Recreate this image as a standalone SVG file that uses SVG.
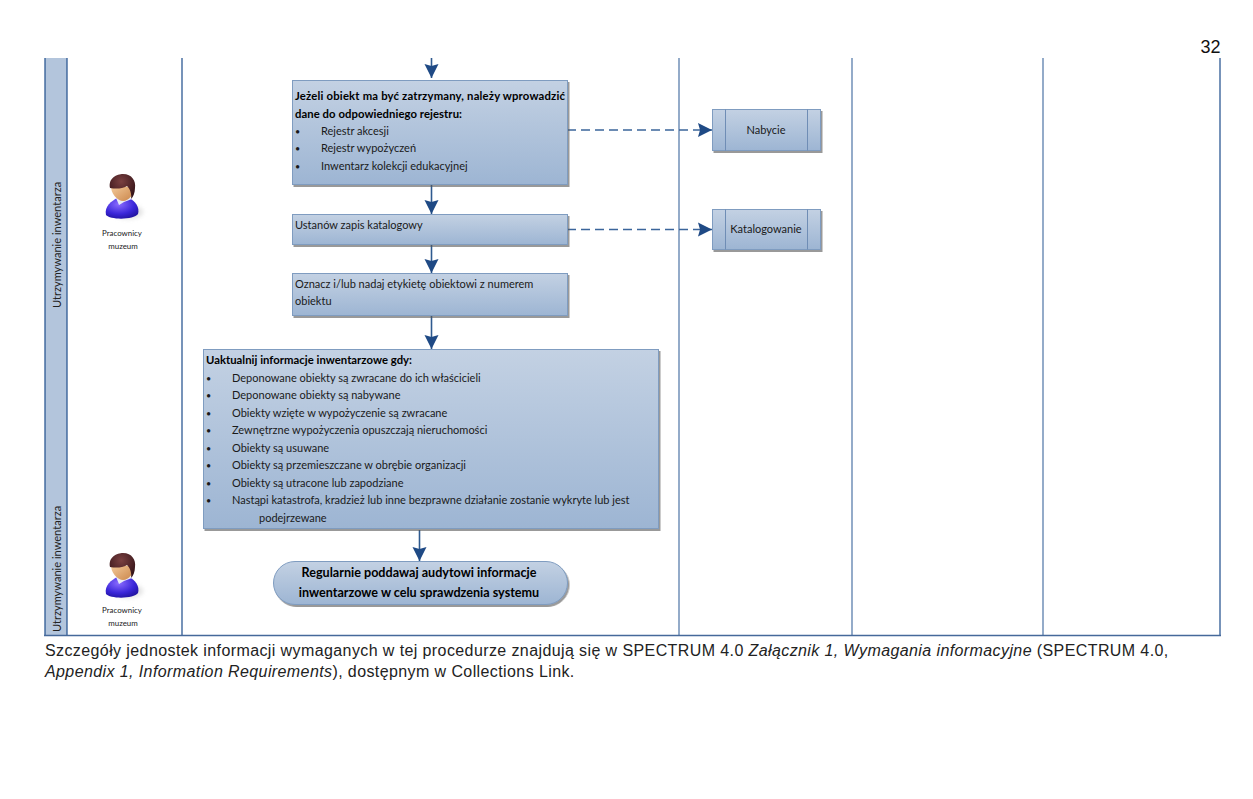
<svg xmlns="http://www.w3.org/2000/svg" xmlns:xlink="http://www.w3.org/1999/xlink" width="1253" height="799" viewBox="0 0 1253 799">
<style>
text{font-family:"Lato","Open Sans",sans-serif;font-size:11px;fill:#1a1a1a}
.b{font-weight:700;fill:#000;font-size:11.3px}
.o{font-size:12.6px}
.d{font-size:9px}
.f{font-family:"Liberation Sans",Arial,sans-serif;font-size:16px;letter-spacing:.4px;fill:#222}
.i{font-style:italic}
.box{fill:url(#g);stroke:#7f9cc0;stroke-width:1;filter:url(#s)}
.lane{stroke:#2f5a94;stroke-width:1.3;fill:none}
.flow{stroke:#2f5a8f;stroke-width:1.6;fill:none;marker-end:url(#a)}
.dash{stroke:#3b659b;stroke-width:1.3;fill:none;stroke-dasharray:9 5;marker-end:url(#a2)}
.sm{font-size:7.9px}
.rot{font-size:11.05px;fill:#222}
.bar{stroke:#6f8db5;stroke-width:1;fill:none}
</style>
<defs>
<linearGradient id="g" x1="0" y1="0" x2="0" y2="1"><stop offset="0" stop-color="#c3d1e3"/><stop offset="1" stop-color="#9db5d3"/></linearGradient>
<linearGradient id="sk" x1="0" y1="0" x2="1" y2="1"><stop offset="0" stop-color="#f7cfa0"/><stop offset="1" stop-color="#c98448"/></linearGradient>
<radialGradient id="bl" cx=".4" cy=".3" r=".8"><stop offset="0" stop-color="#8a6cff"/><stop offset=".6" stop-color="#3a26d8"/><stop offset="1" stop-color="#1d1096"/></radialGradient>
<radialGradient id="hr" cx=".45" cy=".3" r=".7"><stop offset="0" stop-color="#7a4040"/><stop offset="1" stop-color="#341318"/></radialGradient>
<filter id="s" x="-5%" y="-5%" width="110%" height="115%"><feDropShadow dx="1.500" dy="2" stdDeviation=".7" flood-color="#555" flood-opacity=".6"/></filter>
<filter id="bs" x="-30%" y="-30%" width="160%" height="160%"><feGaussianBlur stdDeviation="2"/></filter>
<marker id="a" markerUnits="userSpaceOnUse" markerWidth="15" markerHeight="15" refX="14" refY="7.500" orient="auto"><path d="M0 0.500L14 7.500L0 14.500L2 7.500Z" fill="#1f4a85"/></marker>
<marker id="a2" markerUnits="userSpaceOnUse" markerWidth="15" markerHeight="15" refX="14" refY="7.500" orient="auto"><path d="M0 0.500L14 7.500L0 14.500L2 7.500Z" fill="#1f4a85"/></marker>
<g id="person">
<ellipse cx="6" cy="18" rx="15" ry="7" fill="#ccc" opacity=".55" filter="url(#bs)"/>
<path d="M-16 21C-18 12 -10 7 -5 4L7 4C13 7 18 13 16 20C12 26 -12 26 -16 21Z" fill="url(#bl)"/>
<path d="M-6 4L-3 11L2 8L10 5L5 1L-3 1Z" fill="#e8ecf6"/>
<path d="M-11 -10C-12 0 -4 7 1 7C7 7 12 0 12 -6Z" fill="url(#sk)"/>
<path d="M-12 -6C-14 -16 -5 -20 1 -20C10 -20 14 -13 13 -6C13 -1 11 3 9 5C10 0 8 -5 5 -8C0 -5 -6 -5 -12 -6Z" fill="url(#hr)"/>
</g>
</defs>
<rect width="1253" height="799" fill="#fff"/>
<text x="1200.500" y="53" style="font-family:'Liberation Sans',Arial,sans-serif;font-size:18px;fill:#111">32</text>

<g id="lanes">
<rect x="45" y="58" width="22" height="577" fill="#b3c5dc"/>
<path class="lane" d="M45 58V635.500M67 58V635.500M182 58V635.500M1220 58V635.500"/>
<path class="lane" style="stroke:#5b7fad" d="M679 58V635.500M852 58V635.500M1043 58V635.500"/>
<path class="lane" style="stroke-width:1.6;stroke:#46699a" d="M44 635.500H1221"/>
<text class="rot" transform="translate(61,308) rotate(-90)">Utrzymywanie inwentarza</text>
<text class="rot" transform="translate(61,632) rotate(-90)">Utrzymywanie inwentarza</text>
</g>

<g id="actor1"><use xlink:href="#person" x="122" y="194"/><text class="sm" x="122" y="236" text-anchor="middle">Pracownicy</text><text class="sm" x="123" y="249" text-anchor="middle">muzeum</text></g>
<g id="actor2"><use xlink:href="#person" x="122" y="573"/><text class="sm" x="122" y="613" text-anchor="middle">Pracownicy</text><text class="sm" x="123" y="626" text-anchor="middle">muzeum</text></g>

<g id="connectors">
<path class="flow" d="M431.500 58V78"/>
<path class="flow" d="M431.500 185V214"/>
<path class="flow" d="M431.500 245V273"/>
<path class="flow" d="M431.500 316V349"/>
<path class="flow" d="M419.500 530V561"/>
<path class="dash" d="M567 130H712"/>
<path class="dash" d="M567 229.500H712"/>
</g>

<g id="n1"><rect class="box" x="292.500" y="80.500" width="275" height="104"/>
<text class="b" x="295" y="100" textLength="270">Jeżeli obiekt ma być zatrzymany, należy wprowadzić</text>
<text class="b" x="295" y="118" textLength="167">dane do odpowiedniego rejestru:</text>
<text class="d" x="295" y="135">•</text><text x="321" y="135">Rejestr akcesji</text>
<text class="d" x="295" y="152">•</text><text x="321" y="152">Rejestr wypożyczeń</text>
<text class="d" x="295" y="170">•</text><text x="321" y="170">Inwentarz kolekcji edukacyjnej</text></g>

<g id="n2"><rect class="box" x="292.500" y="214.500" width="275" height="30"/><text x="295" y="229">Ustanów zapis katalogowy</text></g>

<g id="n3"><rect class="box" x="292.500" y="273.500" width="275" height="42"/><text x="295" y="288">Oznacz i/lub nadaj etykietę obiektowi z numerem</text><text x="295" y="305">obiektu</text></g>

<g id="n4"><rect class="box" x="203.500" y="349.500" width="455" height="179"/>
<text class="b" x="206" y="364" textLength="206">Uaktualnij informacje inwentarzowe gdy:</text>
<text class="d" x="206" y="382">•</text><text x="232" y="382">Deponowane obiekty są zwracane do ich właścicieli</text>
<text class="d" x="206" y="399">•</text><text x="232" y="399">Deponowane obiekty są nabywane</text>
<text class="d" x="206" y="417">•</text><text x="232" y="417">Obiekty wzięte w wypożyczenie są zwracane</text>
<text class="d" x="206" y="434">•</text><text x="232" y="434">Zewnętrzne wypożyczenia opuszczają nieruchomości</text>
<text class="d" x="206" y="452">•</text><text x="232" y="452">Obiekty są usuwane</text>
<text class="d" x="206" y="469">•</text><text x="232" y="469">Obiekty są przemieszczane w obrębie organizacji</text>
<text class="d" x="206" y="487">•</text><text x="232" y="487">Obiekty są utracone lub zapodziane</text>
<text class="d" x="206" y="504">•</text><text x="232" y="504">Nastąpi katastrofa, kradzież lub inne bezprawne działanie zostanie wykryte lub jest</text>
<text x="259" y="522">podejrzewane</text></g>

<g id="n5"><rect class="box" x="273.500" y="561.500" width="294" height="43" rx="21.500"/>
<text class="b o" x="419" y="577" text-anchor="middle">Regularnie poddawaj audytowi informacje</text>
<text class="b o" x="419" y="597" text-anchor="middle">inwentarzowe w celu sprawdzenia systemu</text></g>

<g id="n6"><rect class="box" x="712.500" y="109.500" width="108" height="41"/><path class="bar" d="M725.500 109.500V150.500M807.500 109.500V150.500"/><text x="766" y="134" text-anchor="middle">Nabycie</text></g>
<g id="n7"><rect class="box" x="712.500" y="209.500" width="108" height="40"/><path class="bar" d="M725.500 209.500V249.500M807.500 209.500V249.500"/><text x="766" y="233" text-anchor="middle">Katalogowanie</text></g>

<g id="note">
<text class="f" x="45" y="656">Szczegóły jednostek informacji wymaganych w tej procedurze znajdują się w SPECTRUM 4.0 <tspan class="i">Załącznik 1, Wymagania informacyjne</tspan> (SPECTRUM 4.0,</text>
<text class="f" x="45" y="677"><tspan class="i">Appendix 1, Information Requirements</tspan>), dostępnym w Collections Link.</text>
</g>
</svg>
